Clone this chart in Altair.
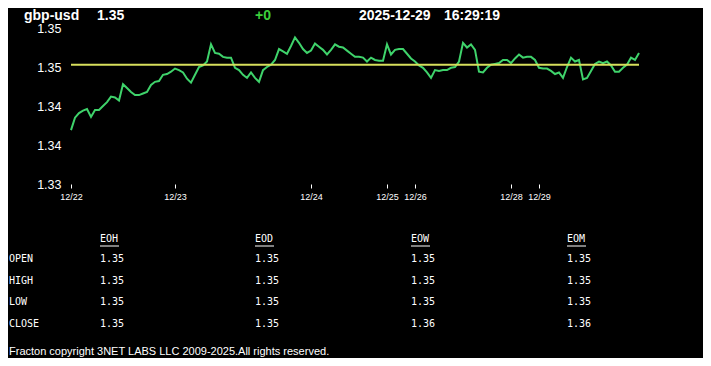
import altair as alt
import pandas as pd

# ---------------- data ----------------
symbol = "gbp-usd"
last_price = "1.35"
change = "+0"
stamp_date = "2025-12-29"
stamp_time = "16:29:19"

prices = [
    1.3399, 1.3415, 1.3421, 1.3424, 1.3426, 1.3416, 1.3425, 1.3425, 1.3430, 1.3435,
    1.3442, 1.3441, 1.3437, 1.3458, 1.3453, 1.3448, 1.3444, 1.3444, 1.3446, 1.3448,
    1.3457, 1.3461, 1.3462, 1.3470, 1.3471, 1.3474, 1.3478, 1.3476, 1.3473, 1.3465,
    1.3460, 1.3470, 1.3480, 1.3482, 1.3487, 1.3509, 1.3498, 1.3497, 1.3493, 1.3492,
    1.3492, 1.3479, 1.3476, 1.3470, 1.3466, 1.3473, 1.3466, 1.3461, 1.3476, 1.3480,
    1.3483, 1.3489, 1.3503, 1.3500, 1.3497, 1.3507, 1.3518, 1.3511, 1.3503, 1.3498,
    1.3501, 1.3510, 1.3506, 1.3502, 1.3496, 1.3502, 1.3509, 1.3506, 1.3505, 1.3501,
    1.3497, 1.3493, 1.3493, 1.3492, 1.3487, 1.3492, 1.3489, 1.3488, 1.3488, 1.3509,
    1.3496, 1.3502, 1.3503, 1.3503, 1.3497, 1.3491, 1.3487, 1.3482, 1.3479, 1.3473,
    1.3466, 1.3476, 1.3475, 1.3476, 1.3476, 1.3479, 1.3480, 1.3487, 1.3511, 1.3505,
    1.3509, 1.3502, 1.3474, 1.3473, 1.3479, 1.3483, 1.3484, 1.3485, 1.3489, 1.3489,
    1.3485, 1.3491, 1.3496, 1.3492, 1.3493, 1.3493, 1.3489, 1.3479, 1.3478, 1.3478,
    1.3475, 1.3471, 1.3473, 1.3466, 1.3480, 1.3492, 1.3487, 1.3489, 1.3464, 1.3466,
    1.3475, 1.3484, 1.3487, 1.3485, 1.3487, 1.3482, 1.3474, 1.3474, 1.3479, 1.3483,
    1.3492, 1.3489, 1.3498,
]
day_labels = ["12/22", "12/23", "12/24", "12/25", "12/26", "12/28", "12/29"]
day_start_index = [0, 26, 60, 79, 86, 110, 117]
ref_price = 1.3483
y_ticks = [1.333, 1.338, 1.343, 1.348, 1.353]

table_cols = ["EOH", "EOD", "EOW", "EOM"]
table_rows = ["OPEN", "HIGH", "LOW", "CLOSE"]
eoh_vals = ["1.35", "1.35", "1.35", "1.35"]
eod_vals = ["1.35", "1.35", "1.35", "1.35"]
eow_vals = ["1.35", "1.35", "1.35", "1.36"]
eom_vals = ["1.35", "1.35", "1.35", "1.36"]
footer_text = "Fracton copyright 3NET LABS LLC 2009-2025.All rights reserved."

# ---------------- layout (page pixel coordinates) ----------------
PLOT_L, PLOT_T = 71, 28
W, H = 568, 156
GREEN = "#3fd36b"
YELLOW = "#d7df5c"


def rx(px):
    return px - PLOT_L


def ry(py):
    return py - PLOT_T


series = pd.DataFrame({"idx": list(range(len(prices))), "price": prices})
ref_df = pd.DataFrame({"price": [ref_price]})

x_label_expr = " : ".join(
    f"datum.value == {i} ? '{l}'" for i, l in zip(day_start_index, day_labels)
) + " : ''"

y_scale = alt.Scale(domain=[y_ticks[0], y_ticks[-1]], nice=False, zero=False)
y_axis = alt.Axis(
    values=y_ticks, format=".2f", title=None, grid=False, domain=False,
    ticks=False, labelColor="white", labelFontSize=12.5,
    labelFont="Liberation Sans", labelPadding=10, labelOverlap=False,
    labelBound=False,
)

line = alt.Chart(series).mark_line(color=GREEN, strokeWidth=2).encode(
    x=alt.X(
        "idx:Q",
        scale=alt.Scale(domain=[0, len(prices) - 1], nice=False, zero=False),
        axis=alt.Axis(
            values=day_start_index, labelExpr=x_label_expr, title=None, grid=False,
            domain=False, ticks=True, tickSize=4, tickColor="white",
            labelColor="white", labelFontSize=9, labelFont="Liberation Sans",
            labelPadding=4, labelOverlap=False, labelFlush=False,
        ),
    ),
    y=alt.Y("price:Q", scale=y_scale, axis=y_axis),
)

ref_rule = alt.Chart(ref_df).mark_rule(color=YELLOW, strokeWidth=2).encode(
    y=alt.Y("price:Q", scale=y_scale, axis=y_axis)
)

# header
header_df = pd.DataFrame({
    "label": [symbol, last_price, change, stamp_date, stamp_time],
    "px": [rx(24), rx(97), rx(255), rx(359), rx(444)],
    "py": [ry(15.5)] * 5,
    "col": ["white", "white", "#3ccf3c", "white", "white"],
})
header = alt.Chart(header_df).mark_text(
    align="left", baseline="middle", fontSize=14, fontWeight="bold",
    font="Liberation Sans",
).encode(
    x=alt.X("px:Q", scale=None), y=alt.Y("py:Q", scale=None),
    text="label:N", color=alt.Color("col:N", scale=None),
)

# table
col_x = [100, 255, 411, 567]
row_y = [259, 281, 302, 324]
head_y = 239
cells = []
for c, name in enumerate(table_cols):
    cells.append({"label": name, "px": rx(col_x[c]), "py": ry(head_y)})
for r, name in enumerate(table_rows):
    cells.append({"label": name, "px": rx(9), "py": ry(row_y[r])})
for c, vals in enumerate([eoh_vals, eod_vals, eow_vals, eom_vals]):
    for r, v in enumerate(vals):
        cells.append({"label": v, "px": rx(col_x[c]), "py": ry(row_y[r])})
table_df = pd.DataFrame(cells)
table = alt.Chart(table_df).mark_text(
    align="left", baseline="middle", fontSize=10, font="DejaVu Sans Mono",
    color="white",
).encode(
    x=alt.X("px:Q", scale=None), y=alt.Y("py:Q", scale=None), text="label:N",
)

underline_df = pd.DataFrame({
    "px": [rx(x) for x in col_x],
    "px2": [rx(x + 19) for x in col_x],
    "py": [ry(head_y + 7)] * len(col_x),
})
underlines = alt.Chart(underline_df).mark_rule(color="white", strokeWidth=1).encode(
    x=alt.X("px:Q", scale=None), x2="px2:Q", y=alt.Y("py:Q", scale=None),
)

footer_df = pd.DataFrame({"label": [footer_text], "px": [rx(9)], "py": [ry(352)]})
footer = alt.Chart(footer_df).mark_text(
    align="left", baseline="middle", fontSize=11, font="Liberation Sans",
    color="white",
).encode(
    x=alt.X("px:Q", scale=None), y=alt.Y("py:Q", scale=None), text="label:N",
)

chart = alt.layer(line, ref_rule, header, table, underlines, footer).properties(
    width=W, height=H,
    padding={"left": PLOT_L - 8, "top": PLOT_T - 8,
             "right": 695 - (PLOT_L - 8) - W, "bottom": 350 - (PLOT_T - 8) - H},
    autosize=alt.AutoSizeParams(type="none"),
    background="black",
).configure_view(stroke=None)

chart.save("out.html", embed_options={"renderer": "svg", "actions": False})
